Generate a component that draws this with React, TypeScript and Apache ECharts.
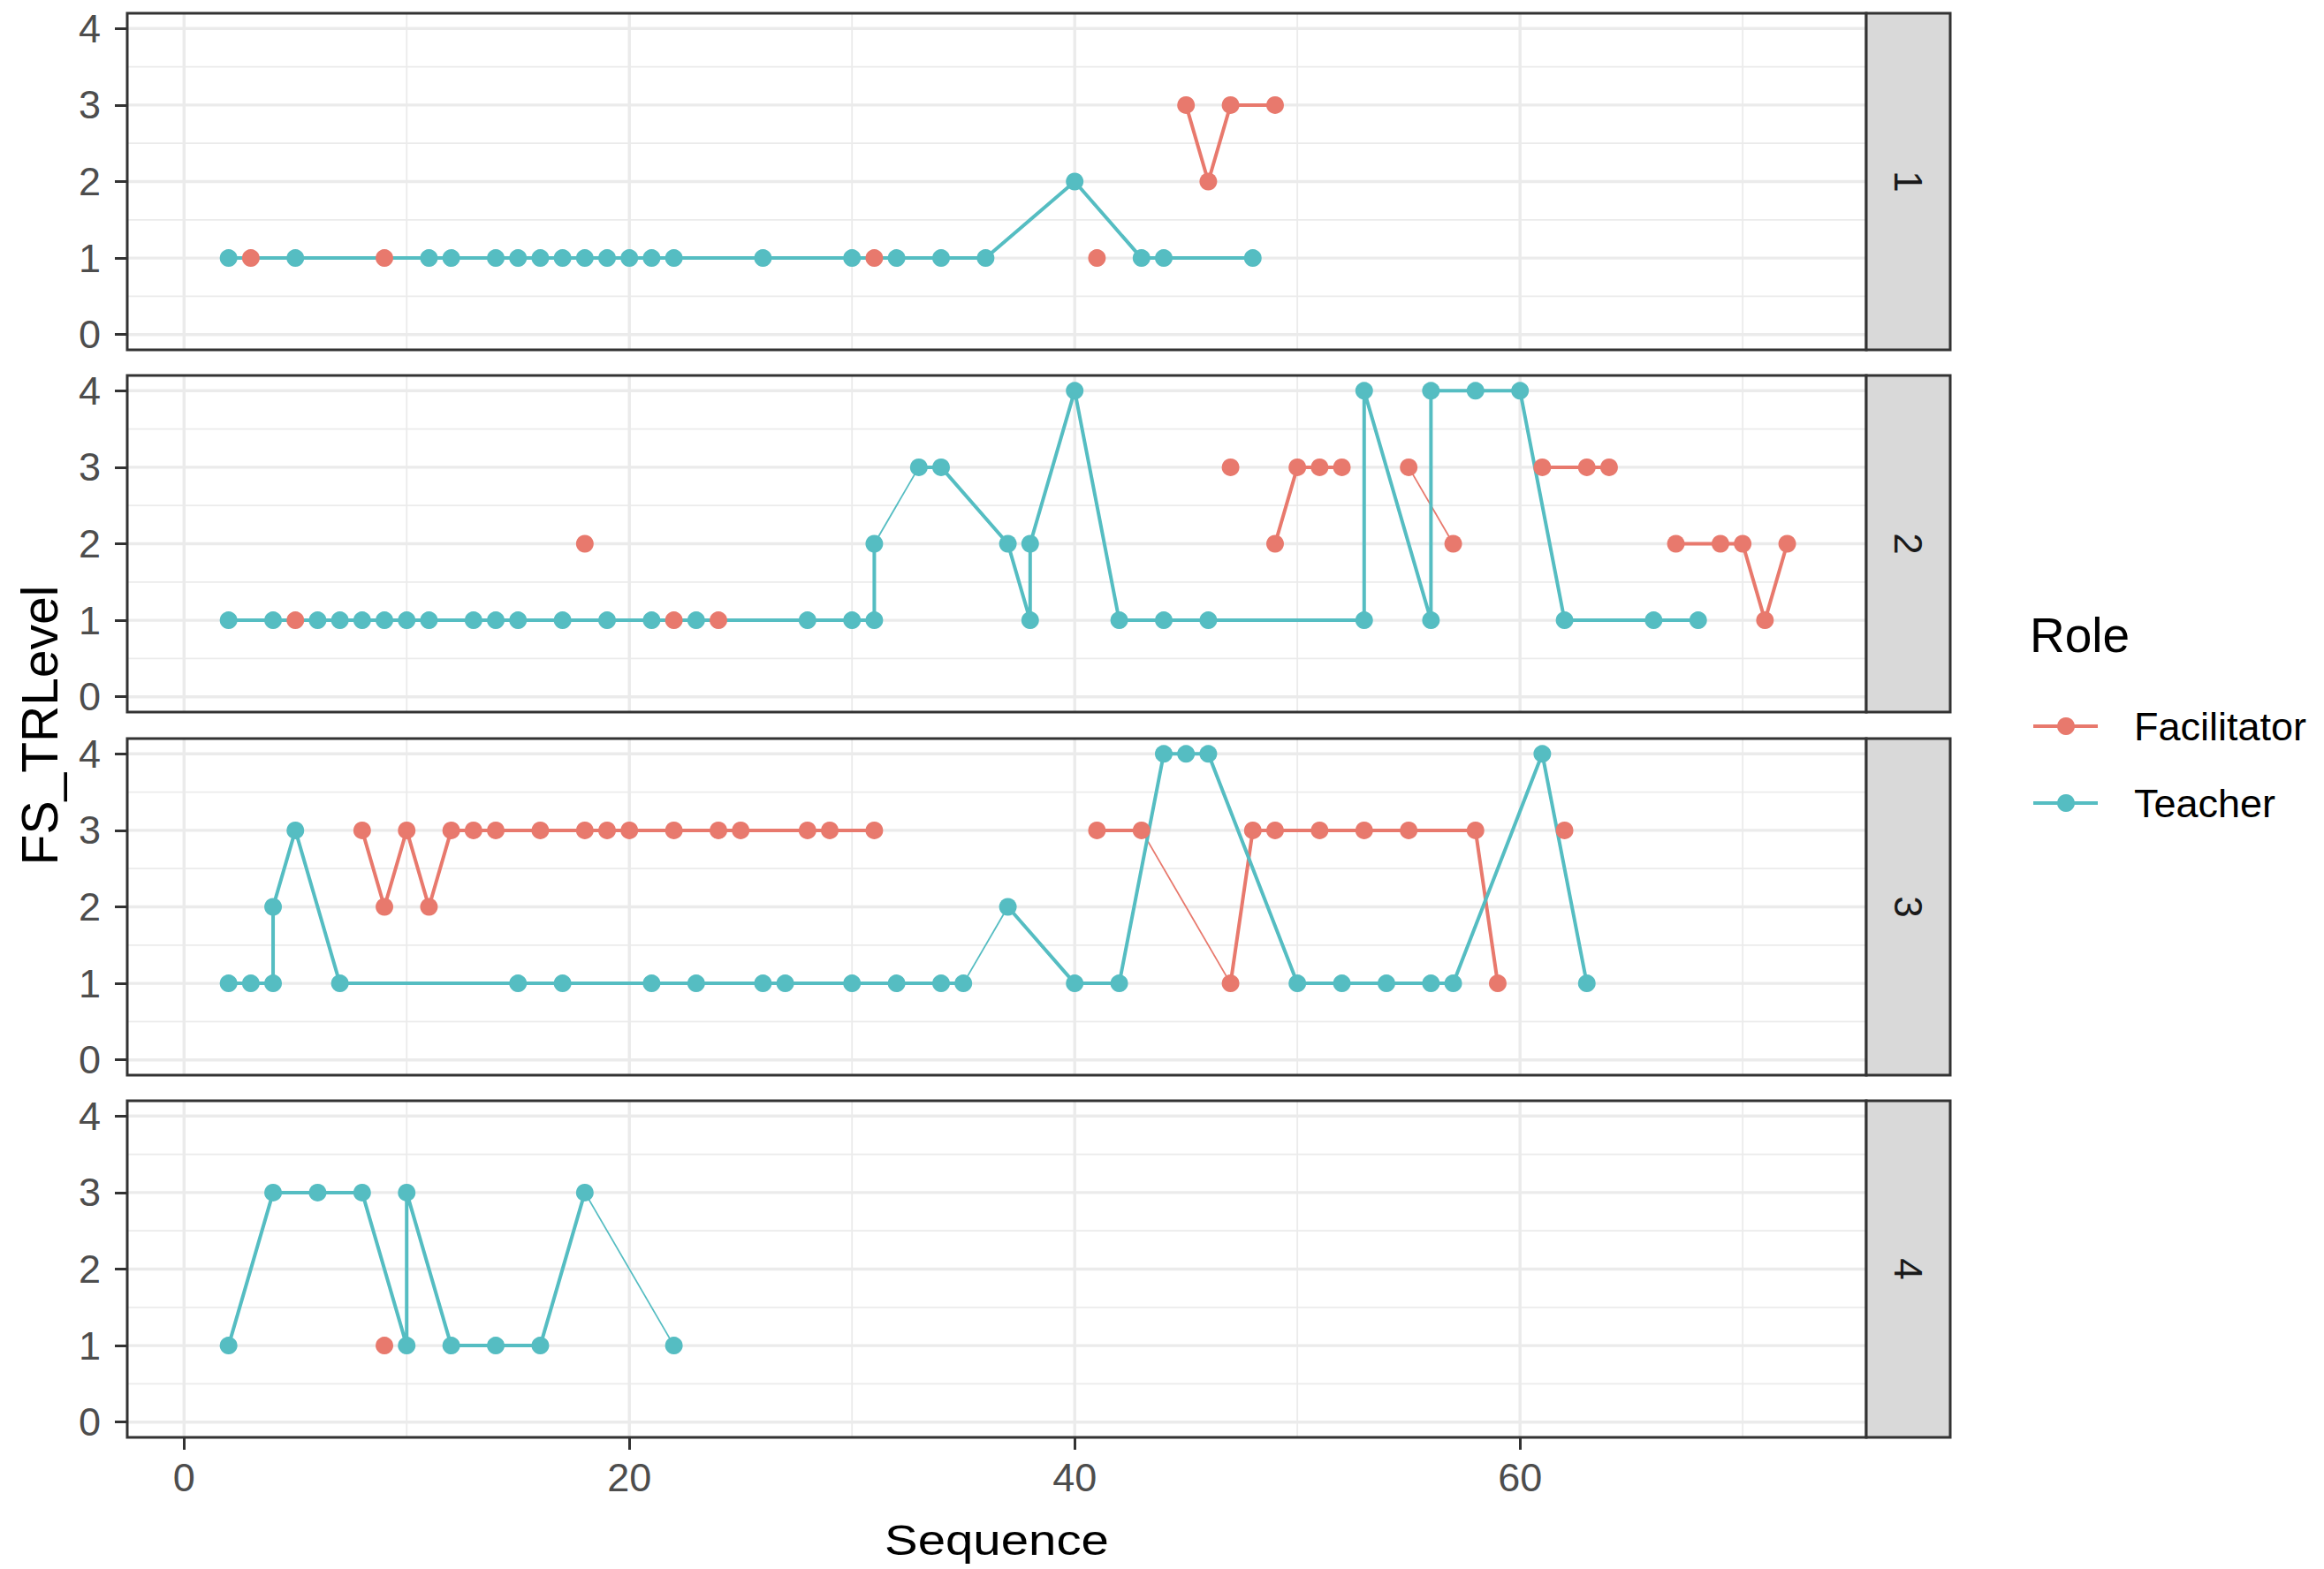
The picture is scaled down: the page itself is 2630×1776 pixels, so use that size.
import React, { useEffect, useRef } from "react";
import * as echarts from "echarts";

// ---------------- data ----------------
const X_TICKS = [0, 20, 40, 60];
const X_MINOR = [10, 30, 50, 70];
const Y_TICKS = [0, 1, 2, 3, 4];
const Y_MINOR = [0.5, 1.5, 2.5, 3.5];
const PANEL_LABELS = ["1", "2", "3", "4"];
const ROLES = ["Facilitator", "Teacher"];

// Each role: list of connected paths [Sequence, FS_TRLevel]; single-point paths are isolated points.
const P1_FAC = [[[3, 1]], [[9, 1]], [[31, 1]], [[41, 1]], [[45, 3], [46, 2], [47, 3], [49, 3]]];
const P1_FAC_THIN: number[][][] = [];
const P1_TEACHER = [[[2, 1], [5, 1], [11, 1], [12, 1], [14, 1], [15, 1], [16, 1], [17, 1], [18, 1], [19, 1], [20, 1], [21, 1], [22, 1], [26, 1], [30, 1], [32, 1], [34, 1], [36, 1], [40, 2], [43, 1], [44, 1], [48, 1]]];
const P1_TEACHER_THIN: number[][][] = [];

const P2_FAC = [[[5, 1]], [[18, 2]], [[22, 1]], [[24, 1]], [[47, 3]], [[49, 2], [50, 3], [51, 3], [52, 3]], [[55, 3]], [[57, 2]], [[61, 3], [63, 3], [64, 3]], [[67, 2], [69, 2], [70, 2], [71, 1], [72, 2]]];
const P2_FAC_THIN = [[[55, 3], [57, 2]]];
const P2_TEACHER = [
  [[2, 1], [4, 1], [6, 1], [7, 1], [8, 1], [9, 1], [10, 1], [11, 1], [13, 1], [14, 1], [15, 1], [17, 1], [19, 1], [21, 1], [23, 1], [28, 1], [30, 1], [31, 1], [31, 2]],
  [[33, 3], [34, 3], [37, 2], [38, 1], [38, 2], [40, 4], [42, 1], [44, 1], [46, 1], [53, 1], [53, 4], [56, 1], [56, 4], [58, 4], [60, 4], [62, 1], [66, 1], [68, 1]],
];
const P2_TEACHER_THIN = [[[31, 2], [33, 3]]];

const P3_FAC = [
  [[8, 3], [9, 2], [10, 3], [11, 2], [12, 3], [13, 3], [14, 3], [16, 3], [18, 3], [19, 3], [20, 3], [22, 3], [24, 3], [25, 3], [28, 3], [29, 3], [31, 3]],
  [[41, 3], [43, 3]],
  [[47, 1], [48, 3], [49, 3], [51, 3], [53, 3], [55, 3], [58, 3], [59, 1]],
  [[62, 3]],
];
const P3_FAC_THIN = [[[43, 3], [47, 1]]];
const P3_TEACHER = [
  [[2, 1], [3, 1], [4, 1], [4, 2], [5, 3], [7, 1], [15, 1], [17, 1], [21, 1], [23, 1], [26, 1], [27, 1], [30, 1], [32, 1], [34, 1], [35, 1]],
  [[37, 2], [40, 1], [42, 1], [44, 4], [45, 4], [46, 4], [50, 1], [52, 1], [54, 1], [56, 1], [57, 1], [61, 4], [63, 1]],
];
const P3_TEACHER_THIN = [[[35, 1], [37, 2]]];

const P4_FAC = [[[9, 1]]];
const P4_FAC_THIN: number[][][] = [];
const P4_TEACHER = [[[2, 1], [4, 3], [6, 3], [8, 3], [10, 1], [10, 3], [12, 1], [14, 1], [16, 1], [18, 3]], [[22, 1]]];
const P4_TEACHER_THIN = [[[18, 3], [22, 1]]];

// ---------------- style / layout ----------------
const COLORS = ["#E8796D", "#55BDC2"];
const FONT = '"Liberation Sans", Arial, Helvetica, sans-serif';
const W = 2630;
const H = 1776;
const PLOT_LEFT = 144;
const PLOT_RIGHT = 2112;
const PANEL_TOPS = [15, 425, 836, 1246];
const PANEL_H = 381;
const STRIP_W = 95;
const X_MIN = -2.55;
const X_MAX = 75.55;
const Y_MIN = -0.2;
const Y_MAX = 4.2;
const TICK_FONT = 45;

const PANELS = [
  { paths: [P1_FAC, P1_TEACHER], thin: [P1_FAC_THIN, P1_TEACHER_THIN] },
  { paths: [P2_FAC, P2_TEACHER], thin: [P2_FAC_THIN, P2_TEACHER_THIN] },
  { paths: [P3_FAC, P3_TEACHER], thin: [P3_FAC_THIN, P3_TEACHER_THIN] },
  { paths: [P4_FAC, P4_TEACHER], thin: [P4_FAC_THIN, P4_TEACHER_THIN] },
];

function buildOption() {
  const grid: any[] = [];
  const xAxis: any[] = [];
  const yAxis: any[] = [];
  const series: any[] = [];
  const graphic: any[] = [];

  const gridData: number[][] = [
    ...X_TICKS.map((v) => [v, 0, 1]),
    ...X_MINOR.map((v) => [v, 0, 0]),
    ...Y_TICKS.map((v) => [v, 1, 1]),
    ...Y_MINOR.map((v) => [v, 1, 0]),
  ];

  PANELS.forEach((panel, i) => {
    const top = PANEL_TOPS[i];
    const isBottom = i === PANELS.length - 1;
    grid.push({
      left: PLOT_LEFT,
      top,
      width: PLOT_RIGHT - PLOT_LEFT,
      height: PANEL_H,
      show: false,
      containLabel: false,
    });
    xAxis.push({
      type: "value",
      gridIndex: i,
      min: X_MIN,
      max: X_MAX,
      axisLine: { show: false, onZero: false },
      splitLine: { show: false },
      axisTick: {
        show: isBottom,
        customValues: X_TICKS,
        length: 14,
        lineStyle: { color: "#333333", width: 3 },
      },
      axisLabel: {
        show: isBottom,
        customValues: X_TICKS,
        fontSize: TICK_FONT,
        color: "#4D4D4D",
        fontFamily: FONT,
        margin: 23,
      },
    });
    yAxis.push({
      type: "value",
      gridIndex: i,
      min: Y_MIN,
      max: Y_MAX,
      axisLine: { show: false, onZero: false },
      splitLine: { show: false },
      axisTick: {
        show: true,
        customValues: Y_TICKS,
        length: 14,
        lineStyle: { color: "#333333", width: 3 },
      },
      axisLabel: {
        show: true,
        customValues: Y_TICKS,
        fontSize: TICK_FONT,
        color: "#4D4D4D",
        fontFamily: FONT,
        margin: 30,
      },
    });

    // background grid lines
    series.push({
      type: "custom",
      xAxisIndex: i,
      yAxisIndex: i,
      silent: true,
      z: 1,
      data: gridData,
      renderItem: (params: any, api: any) => {
        const cs = params.coordSys;
        const v = api.value(0);
        const orient = api.value(1);
        const major = api.value(2);
        let shape;
        if (orient === 0) {
          const px = api.coord([v, 0])[0];
          shape = { x1: px, y1: cs.y, x2: px, y2: cs.y + cs.height };
        } else {
          const py = api.coord([0, v])[1];
          shape = { x1: cs.x, y1: py, x2: cs.x + cs.width, y2: py };
        }
        return {
          type: "line",
          shape,
          style: { stroke: "#EBEBEB", lineWidth: major ? 3.4 : 1.8 },
        };
      },
    });

    // lines
    ROLES.forEach((role, r) => {
      panel.paths[r].forEach((path) => {
        if (path.length < 2) return;
        series.push({
          type: "line",
          name: role,
          xAxisIndex: i,
          yAxisIndex: i,
          data: path,
          showSymbol: false,
          symbol: "none",
          silent: true,
          z: 2,
          lineStyle: { color: COLORS[r], width: 4 },
        });
      });
      panel.thin[r].forEach((path) => {
        series.push({
          type: "line",
          name: role,
          xAxisIndex: i,
          yAxisIndex: i,
          data: path,
          showSymbol: false,
          symbol: "none",
          silent: true,
          z: 2,
          lineStyle: { color: COLORS[r], width: 1.8 },
        });
      });
    });

    // points
    ROLES.forEach((role, r) => {
      const pts: number[][] = [];
      panel.paths[r].forEach((path) => path.forEach((p) => pts.push(p)));
      series.push({
        type: "scatter",
        name: role,
        xAxisIndex: i,
        yAxisIndex: i,
        data: pts,
        symbol: "circle",
        symbolSize: 20,
        silent: true,
        z: 3,
        itemStyle: { color: COLORS[r], opacity: 1 },
      });
    });

    // panel border
    graphic.push({
      type: "rect",
      shape: { x: PLOT_LEFT, y: top, width: PLOT_RIGHT - PLOT_LEFT, height: PANEL_H },
      style: { fill: "none", stroke: "#333333", lineWidth: 3 },
      z: 100,
      silent: true,
    });
    // strip
    graphic.push({
      type: "rect",
      shape: { x: PLOT_RIGHT, y: top, width: STRIP_W, height: PANEL_H },
      style: { fill: "#D9D9D9", stroke: "#333333", lineWidth: 3 },
      z: 100,
      silent: true,
    });
    graphic.push({
      type: "text",
      x: PLOT_RIGHT + STRIP_W / 2,
      y: top + PANEL_H / 2,
      rotation: -Math.PI / 2,
      z: 101,
      silent: true,
      style: {
        text: PANEL_LABELS[i],
        x: 0,
        y: 0,
        align: "center",
        verticalAlign: "middle",
        textAlign: "center",
        textVerticalAlign: "middle",
        fontSize: 44,
        fontFamily: FONT,
        fill: "#1A1A1A",
      },
    });
  });

  // axis titles
  graphic.push({
    type: "text",
    x: (PLOT_LEFT + PLOT_RIGHT) / 2,
    y: 1743,
    scaleX: 1.15,
    z: 101,
    silent: true,
    style: {
      text: "Sequence",
      x: 0,
      y: 0,
      align: "center",
      verticalAlign: "middle",
      textAlign: "center",
      textVerticalAlign: "middle",
      fontSize: 49,
      fontFamily: FONT,
      fill: "#000000",
    },
  });
  graphic.push({
    type: "text",
    x: 45,
    y: (PANEL_TOPS[0] + PANEL_TOPS[3] + PANEL_H) / 2,
    rotation: Math.PI / 2,
    z: 101,
    silent: true,
    style: {
      text: "FS_TRLevel",
      x: 0,
      y: 0,
      align: "center",
      verticalAlign: "middle",
      textAlign: "center",
      textVerticalAlign: "middle",
      fontSize: 57,
      fontFamily: FONT,
      fill: "#000000",
    },
  });

  // legend
  graphic.push({
    type: "text",
    x: 2297,
    y: 719,
    z: 101,
    silent: true,
    style: {
      text: "Role",
      x: 0,
      y: 0,
      align: "left",
      verticalAlign: "middle",
      textAlign: "left",
      textVerticalAlign: "middle",
      fontSize: 55,
      fontFamily: FONT,
      fill: "#000000",
    },
  });
  const legendY = [822, 909];
  ROLES.forEach((role, r) => {
    const y = legendY[r];
    graphic.push({
      type: "line",
      shape: { x1: 2301, y1: y, x2: 2374, y2: y },
      style: { stroke: COLORS[r], lineWidth: 4 },
      z: 101,
      silent: true,
    });
    graphic.push({
      type: "circle",
      shape: { cx: 2338, cy: y, r: 10 },
      style: { fill: COLORS[r] },
      z: 102,
      silent: true,
    });
    graphic.push({
      type: "text",
      x: 2415,
      y: y,
      z: 101,
      silent: true,
      style: {
        text: role,
        x: 0,
        y: 0,
        align: "left",
        verticalAlign: "middle",
        textAlign: "left",
        textVerticalAlign: "middle",
        fontSize: 45,
        fontFamily: FONT,
        fill: "#000000",
      },
    });
  });

  return {
    animation: false,
    backgroundColor: "#FFFFFF",
    textStyle: { fontFamily: FONT },
    grid,
    xAxis,
    yAxis,
    series,
    graphic,
  };
}

export default function App() {
  const ref = useRef<HTMLDivElement>(null);
  useEffect(() => {
    if (!ref.current) return;
    const chart = echarts.init(ref.current, null, { renderer: "svg" });
    chart.setOption(buildOption());
    return () => {
      chart.dispose();
    };
  }, []);
  return (
    <div
      ref={ref}
      style={{ position: "fixed", left: 0, top: 0, width: W, height: H, background: "#FFFFFF" }}
    />
  );
}
